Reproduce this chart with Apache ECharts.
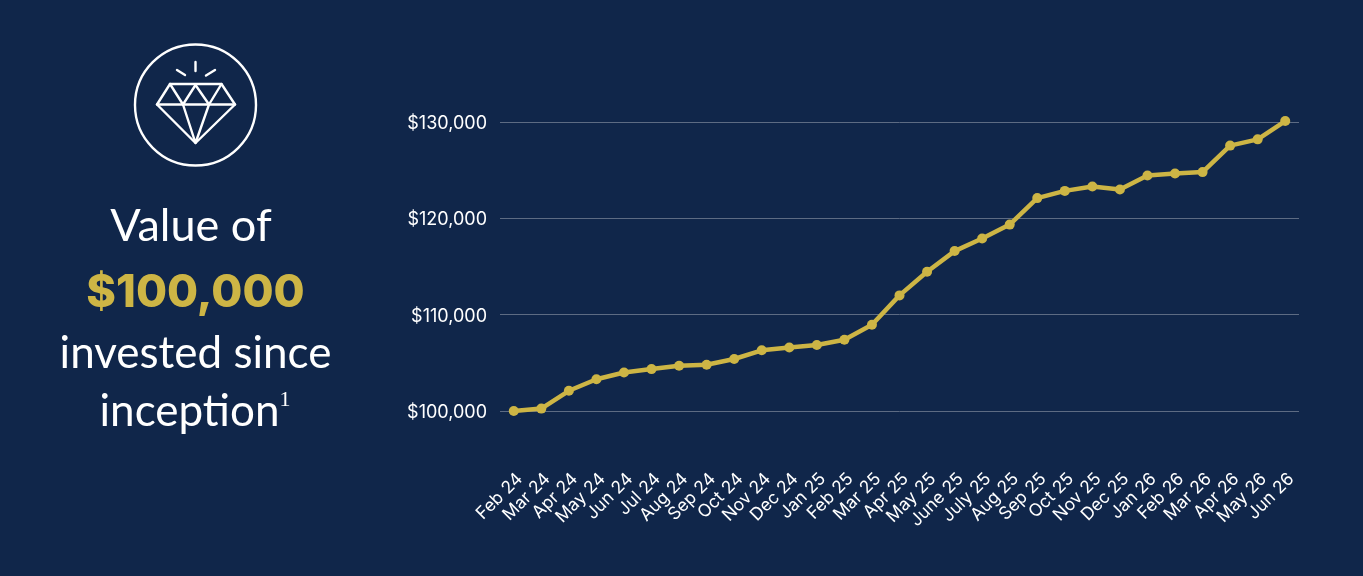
<!DOCTYPE html>
<html><head><meta charset="utf-8">
<style>html,body{margin:0;padding:0;background:#10264a}#c{width:1363px;height:576px}</style>
<script src="https://cdn.jsdelivr.net/npm/echarts@6/dist/echarts.min.js"></script>
</head><body><div id="c"></div>
<script>
const categories = ['Feb 24','Mar 24','Apr 24','May 24','Jun 24','Jul 24','Aug 24','Sep 24','Oct 24','Nov 24','Dec 24','Jan 25','Feb 25','Mar 25','Apr 25','May 25','June 25','July 25','Aug 25','Sep 25','Oct 25','Nov 25','Dec 25','Jan 26','Feb 26','Mar 26','Apr 26','May 26','Jun 26'];
const values = [100000,100250,102100,103300,104000,104350,104700,104800,105400,106300,106600,106850,107400,108950,112000,114450,116600,117900,119350,122100,122850,123300,123000,124450,124650,124800,127550,128200,130100];
const bg = '#10264a', gold = '#cdb545', white = '#ffffff';
const chart = echarts.init(document.getElementById('c'), null, {renderer:'canvas'});
const stroke = {stroke:white, lineWidth:2.4, fill:'none', lineJoin:'round', lineCap:'round'};
const line = (x1,y1,x2,y2) => ({type:'line', shape:{x1,y1,x2,y2}, style:stroke, silent:true});
const poly = pts => ({type:'polyline', shape:{points:pts}, style:stroke, silent:true});
const txt = (x,y,t,extra) => ({type:'text', x, y, silent:true, style:Object.assign({text:t, fill:white, font:'400 44px Lato', align:'center', verticalAlign:'middle'}, extra||{})});
chart.setOption({
  backgroundColor: bg,
  animation:false,
  grid:{left:500, right:64, top:122, bottom:165, containLabel:false},
  xAxis:{type:'category', data:categories, boundaryGap:true,
    axisLine:{show:false}, axisTick:{show:false},
    axisLabel:{interval:0, rotate:45, margin:59, color:white, fontFamily:'Inter', fontSize:17.5,
      formatter:v=>'{a|'+v+'}',
      rich:{a:{color:white, fontFamily:'Inter', fontSize:17.5, padding:[17,0,0,0]}}}},
  yAxis:{type:'value', min:100000, max:130000, interval:10000,
    axisLine:{show:false}, axisTick:{show:false},
    splitLine:{lineStyle:{color:'#5d6b83', width:1}},
    axisLabel:{margin:13, color:white, fontFamily:'Inter', fontSize:18,
      formatter:v=>'{a|$'+v.toLocaleString('en-US')+'}',
      rich:{a:{color:white, fontFamily:'Inter', fontSize:18, padding:[3,0,0,0]}}}},
  series:[{type:'line', data:values, clip:false, smooth:false,
    symbol:'circle', symbolSize:10,
    lineStyle:{color:gold, width:4.5}, itemStyle:{color:gold}}],
  graphic:[
    {type:'circle', shape:{cx:195.5,cy:105,r:60.5}, style:stroke, silent:true},
    poly([[170,84],[221.5,84],[235,104.5],[195.5,143],[157,104.5],[170,84]]),
    line(157,104.5,235,104.5),
    poly([[170,84],[183,104.5],[195.5,85],[209,104.5],[221.5,84]]),
    poly([[183,104.5],[195.5,143],[209,104.5]]),
    line(195.5,62,195.5,71), line(177,70,185,75), line(215,70,206,75.5),
    txt(191,226,'Value of',{font:'400 45px Lato'}),
    txt(195.5,293,'$100,000',{fill:gold, font:'800 45px Inter'}),
    txt(195.5,354,'invested since'),
    {type:'text', x:195, y:412, silent:true, style:{text:'inception{s|1}', fill:white, font:'400 44px Lato', align:'center', verticalAlign:'middle',
      rich:{s:{font:'400 22px "Liberation Serif"', fill:white, verticalAlign:'top', padding:[0,0,24,0]}}}}
  ]
});
</script></body></html>
